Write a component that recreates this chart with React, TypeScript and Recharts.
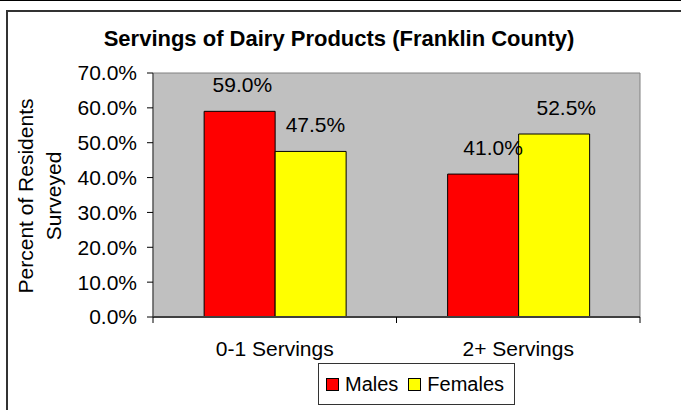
import React from 'react';
import { BarChart, Bar, XAxis, YAxis, ReferenceArea, LabelList, Legend, Customized } from 'recharts';

const categories = ['0-1 Servings', '2+ Servings'];
const males = [59.0, 41.0];
const females = [47.5, 52.5];
const yTicks = [0, 10, 20, 30, 40, 50, 60, 70];
const seriesNames = ['Males', 'Females'];
const seriesColors = ['#ff0000', '#ffff00'];
const title = 'Servings of Dairy Products (Franklin County)';
const yLabelLines = ['Percent of Residents', 'Surveyed'];

const data = categories.map((c, i) => ({ category: c, Males: males[i], Females: females[i] }));

const FONT = '"Liberation Sans", Arial, Helvetica, sans-serif';
const W = 681;
const H = 410;
const Y_AXIS_W = 153;
const X_AXIS_H = 40;
const margin = { top: 73, right: 41, bottom: 53, left: 0 };
const PLOT_W = W - margin.left - margin.right - Y_AXIS_W;
const X_TICK_SIZE = 6;
const X_TICK_MARGIN = 18;
const TEXT_SIZE = 21;

const fmt = (v: number) => `${v.toFixed(1)}%`;

const XTick = (props: any) => {
  const { x, y, payload, index } = props;
  const half = PLOT_W / categories.length / 2;
  const axisY = y - X_TICK_SIZE - X_TICK_MARGIN;
  return (
    <g>
      <line x1={x - half} x2={x - half} y1={axisY} y2={axisY + X_TICK_SIZE} stroke="#000" strokeWidth={1} />
      {index === categories.length - 1 && (
        <line x1={x + half} x2={x + half} y1={axisY} y2={axisY + X_TICK_SIZE} stroke="#000" strokeWidth={1} />
      )}
      <text x={x} y={y} dy="0.71em" textAnchor="middle" fontSize={TEXT_SIZE} fill="#000" fontFamily={FONT}>
        {payload.value}
      </text>
    </g>
  );
};

const BarLabel = (props: any) => {
  const { x, y, width, value } = props;
  const cx = Number(x) + Number(width) / 2;
  const shift = (cx - 150) * 0.03;
  return (
    <text x={cx + shift} y={Number(y) - 19} textAnchor="middle" fontSize={TEXT_SIZE} fill="#000" fontFamily={FONT}>
      {fmt(Number(value))}
    </text>
  );
};

const LegendContent = () => (
  <div
    style={{
      boxSizing: 'border-box',
      width: 197,
      height: 42,
      border: '1px solid #333',
      background: '#fff',
      display: 'flex',
      alignItems: 'center',
      paddingLeft: 7,
      fontFamily: FONT,
      fontSize: 20,
      color: '#000',
    }}
  >
    {seriesNames.map((n, i) => (
      <div key={n} style={{ display: 'flex', alignItems: 'center', marginRight: i === 0 ? 10 : 0 }}>
        <span
          style={{
            display: 'inline-block',
            boxSizing: 'border-box',
            width: 13,
            height: 13,
            background: seriesColors[i],
            border: '1px solid #000',
            marginRight: 6,
          }}
        />
        <span style={{ lineHeight: '20px' }}>{n}</span>
      </div>
    ))}
  </div>
);

const Title = () => (
  <text x={339} y={46} textAnchor="middle" fontSize={22} fontWeight="bold" fill="#000" fontFamily={FONT}>
    {title}
  </text>
);

const YLabel = () => {
  const cy = 196;
  const xs = [33, 61];
  return (
    <g>
      {yLabelLines.map((l, i) => (
        <text
          key={l}
          x={xs[i]}
          y={cy}
          transform={`rotate(-90 ${xs[i]} ${cy})`}
          textAnchor="middle"
          fontSize={21}
          fill="#000"
          fontFamily={FONT}
        >
          {l}
        </text>
      ))}
    </g>
  );
};

export default function App() {
  return (
    <div style={{ position: 'absolute', left: 0, top: 0, width: W, height: H, overflow: 'hidden', background: '#fff' }}>
      <div style={{ position: 'absolute', left: 0, top: 0, width: W, height: 1, background: '#000' }} />
      <div
        style={{
          position: 'absolute',
          left: 6,
          top: 10,
          width: W + 20,
          height: H + 20,
          borderLeft: '2px solid #333',
          borderTop: '2px solid #333',
        }}
      />
      <div style={{ position: 'absolute', left: 0, top: 0 }}>
        <BarChart width={W} height={H} data={data} margin={margin} barGap={0} barCategoryGap="21%">
          <ReferenceArea y1={0} y2={70} fill="#c0c0c0" fillOpacity={1} stroke="#808080" strokeWidth={1} />
          <XAxis
            dataKey="category"
            height={X_AXIS_H}
            tickLine={false}
            tickSize={X_TICK_SIZE}
            tickMargin={X_TICK_MARGIN}
            axisLine={{ stroke: '#404040', strokeWidth: 2 }}
            tick={<XTick />}
            interval={0}
          />
          <YAxis
            type="number"
            domain={[0, 70]}
            ticks={yTicks}
            width={Y_AXIS_W}
            tickFormatter={fmt}
            tickSize={6}
            tickMargin={10}
            tickLine={{ stroke: '#000' }}
            axisLine={{ stroke: '#404040' }}
            tick={{ fontSize: TEXT_SIZE, fill: '#000', fontFamily: FONT }}
            interval={0}
          />
          <Bar dataKey="Males" fill={seriesColors[0]} stroke="#000" strokeWidth={1} isAnimationActive={false}>
            <LabelList dataKey="Males" content={<BarLabel />} />
          </Bar>
          <Bar dataKey="Females" fill={seriesColors[1]} stroke="#000" strokeWidth={1} isAnimationActive={false}>
            <LabelList dataKey="Females" content={<BarLabel />} />
          </Bar>
          <Legend
            layout="horizontal"
            verticalAlign="middle"
            align="center"
            wrapperStyle={{ left: 318, top: 363, width: 197, height: 42 }}
            content={<LegendContent />}
          />
          <Customized component={<Title />} />
          <Customized component={<YLabel />} />
        </BarChart>
      </div>
    </div>
  );
}
